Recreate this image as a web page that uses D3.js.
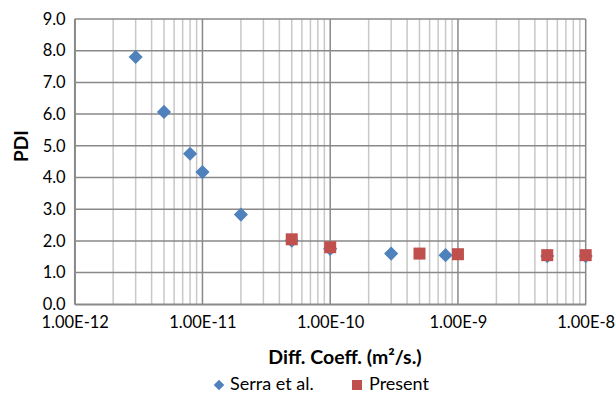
<!DOCTYPE html>
<html><head><meta charset="utf-8">
<script src="https://cdn.jsdelivr.net/npm/d3@7"></script>
<style>body{margin:0;background:#fff}svg{display:block}text{font-family:Lato,"Open Sans",sans-serif;fill:#000}</style>
</head><body>
<script>
const serraX = [3e-12, 5e-12, 8e-12, 1e-11, 2e-11, 5e-11, 1e-10, 3e-10, 8e-10, 5e-9, 1e-8];
const serraY = [7.8, 6.07, 4.75, 4.17, 2.83, 2.01, 1.75, 1.6, 1.55, 1.52, 1.52];
const presentX = [5e-11, 1e-10, 5e-10, 1e-9, 5e-9, 1e-8];
const presentY = [2.05, 1.8, 1.6, 1.58, 1.55, 1.55];
const xTicks = [1e-12, 1e-11, 1e-10, 1e-9, 1e-8];
const yTicks = [0, 1, 2, 3, 4, 5, 6, 7, 8, 9];
const seriesNames = ["Serra et al.", "Present"];
const colors = ["#4F81BD", "#C0504D"];

const W = 616, H = 395;
const m = {l: 74.7, r: 616 - 585.7, t: 19, b: 395 - 304.3};
const svg = d3.select("body").append("svg").attr("width", W).attr("height", H);
const x = d3.scaleLog().domain([1e-12, 1e-8]).range([m.l, W - m.r]);
const y = d3.scaleLinear().domain([0, 9]).range([H - m.b, m.t]);

// minor vertical gridlines
const minor = [];
for (let e = -12; e < -8; e++) for (let k = 2; k <= 9; k++) minor.push(k * Math.pow(10, e));
svg.append("g").selectAll("line").data(minor).join("line")
  .attr("x1", d => x(d)).attr("x2", d => x(d)).attr("y1", y(0)).attr("y2", y(9))
  .attr("stroke", "#c8c8c8").attr("stroke-width", 1.5);
// horizontal gridlines
svg.append("g").selectAll("line").data(yTicks).join("line")
  .attr("x1", x(1e-12)).attr("x2", x(1e-8)).attr("y1", d => y(d)).attr("y2", d => y(d))
  .attr("stroke", "#898989").attr("stroke-width", 1.5);
// major vertical gridlines
svg.append("g").selectAll("line").data(xTicks).join("line")
  .attr("x1", d => x(d)).attr("x2", d => x(d)).attr("y1", y(0)).attr("y2", y(9))
  .attr("stroke", "#898989").attr("stroke-width", 1.5);

// axes
const xAxis = svg.append("g").attr("transform", `translate(0,${y(0)})`)
  .call(d3.axisBottom(x).tickValues(xTicks).tickSize(0).tickPadding(12).tickFormat(d => "1.00E" + Math.round(Math.log10(d))));
xAxis.select(".domain").attr("stroke", "#898989").attr("stroke-width", 1.5);
xAxis.selectAll("text").attr("font-size", 16.5).attr("font-family", "Lato");
const yAxis = svg.append("g").attr("transform", `translate(${x(1e-12)},0)`)
  .call(d3.axisLeft(y).tickValues(yTicks).tickSize(0).tickPadding(9).tickFormat(d3.format(".1f")));
yAxis.select(".domain").attr("stroke", "#898989").attr("stroke-width", 1.5);
yAxis.selectAll("text").attr("font-size", 16.5).attr("font-family", "Lato");

// series
const serra = serraX.map((v, i) => [v, serraY[i]]);
const present = presentX.map((v, i) => [v, presentY[i]]);
const diamond = d3.symbol().type(d3.symbolSquare).size(100);
svg.append("g").selectAll("path").data(serra).join("path")
  .attr("d", diamond).attr("fill", colors[0])
  .attr("transform", d => `translate(${x(d[0])},${y(d[1])}) rotate(45)`);
svg.append("g").selectAll("rect").data(present).join("rect")
  .attr("x", d => x(d[0]) - 6).attr("y", d => y(d[1]) - 6).attr("width", 12).attr("height", 12)
  .attr("fill", colors[1]);

// titles
svg.append("text").attr("x", 345).attr("y", 364).attr("text-anchor", "middle")
  .attr("font-size", 19.5).attr("font-weight", "bold").text("Diff. Coeff. (m²/s.)");
svg.append("text").attr("transform", "translate(28,146) rotate(-90)").attr("text-anchor", "middle")
  .attr("font-size", 19).attr("font-weight", "bold").text("PDI");

// legend
const lg = svg.append("g");
lg.append("path").attr("d", d3.symbol().type(d3.symbolSquare).size(55))
  .attr("transform", "translate(219,385) rotate(45)").attr("fill", colors[0]);
lg.append("text").attr("x", 230).attr("y", 390).attr("font-size", 18).text(seriesNames[0]);
lg.append("rect").attr("x", 352).attr("y", 380).attr("width", 10).attr("height", 10).attr("fill", colors[1]);
lg.append("text").attr("x", 369).attr("y", 390).attr("font-size", 18).text(seriesNames[1]);
</script>
</body></html>
